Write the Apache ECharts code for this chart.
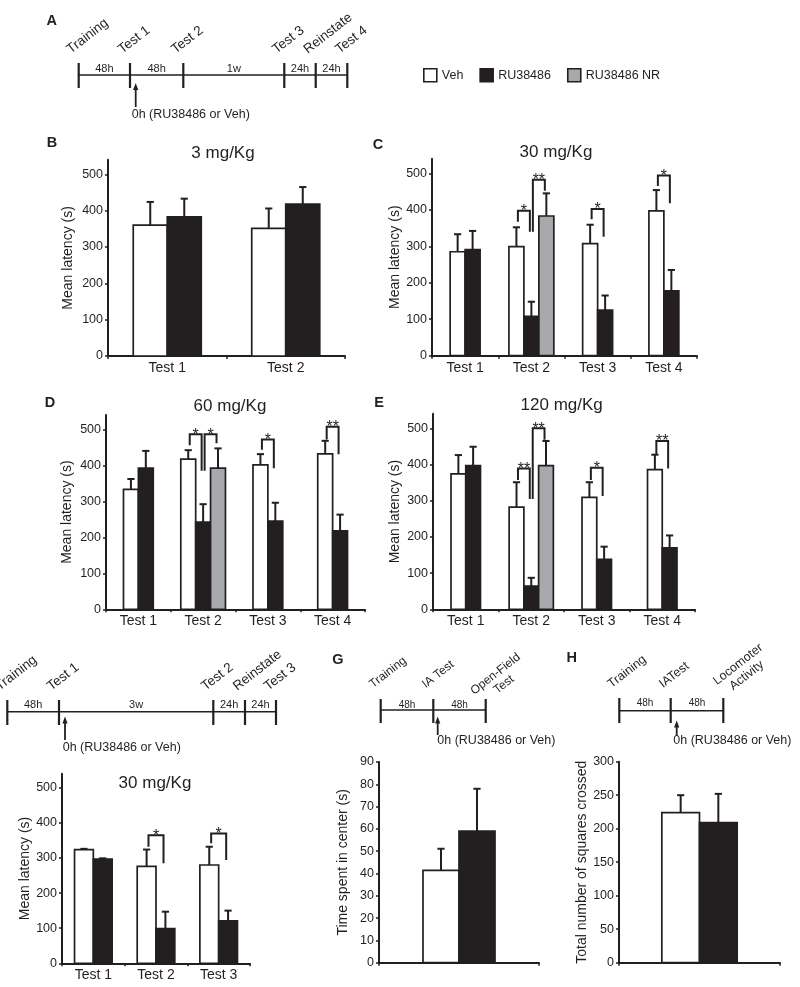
<!DOCTYPE html>
<html><head><meta charset="utf-8">
<script src="https://cdn.jsdelivr.net/npm/echarts@6/dist/echarts.min.js"></script>
<style>html,body{margin:0;padding:0;background:#fff}#c{width:800px;height:987px}</style>
</head><body><div id="c"></div>
<script>
const FONT = 'Liberation Sans, Arial, Helvetica, sans-serif';
const INK = '#231f20';
const GREY = '#a7a9ac';

// ---------- categories & tick labels ----------
const tests2 = ['Test 1', 'Test 2'];
const tests3 = ['Test 1', 'Test 2', 'Test 3'];
const tests4 = ['Test 1', 'Test 2', 'Test 3', 'Test 4'];
const singleCat = [''];
const latencyTicks = [0, 100, 200, 300, 400, 500];
const centerTicks = [0, 10, 20, 30, 40, 50, 60, 70, 80, 90];
const squaresTicks = [0, 50, 100, 150, 200, 250, 300];
const seriesNames = ['Veh', 'RU38486', 'RU38486 NR'];

// ---------- B: 3 mg/Kg ----------
const bVehMean = [360, 351];
const bVehSem = [64, 55];
const bRuMean = [383, 418];
const bRuSem = [50, 47];

// ---------- C: 30 mg/Kg ----------
const cVehMean = [285, 299, 307, 397];
const cVehSem = [48, 53, 52, 57];
const cRuMean = [291, 108, 125, 178];
const cRuSem = [51, 40, 40, 57];
const cNrMean = [null, 383, null, null];
const cNrSem = [null, 62, null, null];
// significance: [category, bar A, bar B, bracket top, leg A end, leg B end, stars]
const cSig = [[1, 0, 1, 397, 367, 340, 1], [1, 1, 2, 482, 340, 452, 2], [2, 0, 1, 402, 374, 326, 1], [3, 0, 1, 494, 465, 418, 1]];

// ---------- D: 60 mg/Kg ----------
const dVehMean = [333, 417, 401, 432];
const dVehSem = [29, 25, 30, 36];
const dRuMean = [392, 242, 245, 218];
const dRuSem = [48, 50, 51, 45];
const dNrMean = [null, 392, null, null];
const dNrSem = [null, 55, null, null];
const dSig = [[1, 0, 1, 486, 456, 385, 1], [1, 1, 2, 486, 385, 461, 1], [2, 0, 1, 472, 443, 392, 1], [3, 0, 1, 507, 472, 431, 2]];

// ---------- E: 120 mg/Kg ----------
const eVehMean = [374, 282, 309, 386];
const eVehSem = [52, 69, 42, 41];
const eRuMean = [397, 64, 138, 170];
const eRuSem = [52, 23, 35, 34];
const eNrMean = [null, 397, null, null];
const eNrSem = [null, 68, null, null];
const eSig = [[1, 0, 1, 389, 357, 305, 2], [1, 1, 2, 500, 305, 468, 2], [2, 0, 1, 391, 357, 313, 1], [3, 0, 1, 465, 429, 389, 2]];

// ---------- F: 30 mg/Kg, 3 weeks ----------
const fVehMean = [324, 276, 280];
const fVehSem = [2, 48, 52];
const fRuMean = [297, 99, 121];
const fRuSem = [2, 48, 29];
const fSig = [[1, 0, 1, 365, 332, 285, 1], [2, 0, 1, 370, 342, 294, 1]];

// ---------- G: open field, time in center ----------
const gVehMean = [41.4];
const gVehSem = [9.7];
const gRuMean = [59];
const gRuSem = [19];

// ---------- H: locomotor activity ----------
const hVehMean = [224];
const hVehSem = [26];
const hRuMean = [209];
const hRuSem = [43];

// ---------- timeline texts ----------
const aEvents = ['Training', 'Test 1', 'Test 2', 'Test 3', 'Reinstate', 'Test 4'];
const aIntervals = ['48h', '48h', '1w', '24h', '24h'];
const fEvents = ['Training', 'Test 1', 'Test 2', 'Reinstate', 'Test 3'];
const fIntervals = ['48h', '3w', '24h', '24h'];
const gEvents = ['Training', 'IA Test', 'Open-Field\nTest'];
const hEvents = ['Training', 'IATest', 'Locomoter\nActivity'];
const ghIntervals = ['48h', '48h'];
const doseNote = '0h (RU38486 or Veh)';

// ---------- panel layout ----------
const panels = [
  { cats: tests2, grid: { left: 108, top: 159.8, width: 237, height: 196.2 }, yMax: 540, ticks: latencyTicks, yName: 'Mean latency (s)', nameGap: 33, frac: 0.287,
    groups: [[bVehMean, bVehSem], [bRuMean, bRuSem]], sig: [] },
  { cats: tests4, grid: { left: 432, top: 158.7, width: 265, height: 197 }, yMax: 540, ticks: latencyTicks, yName: 'Mean latency (s)', nameGap: 30, frac: 0.226,
    groups: [[cVehMean, cVehSem], [cRuMean, cRuSem], [cNrMean, cNrSem]], sig: cSig },
  { cats: tests4, grid: { left: 106, top: 414.9, width: 259, height: 194.4 }, yMax: 540, ticks: latencyTicks, yName: 'Mean latency (s)', nameGap: 32, frac: 0.23,
    groups: [[dVehMean, dVehSem], [dRuMean, dRuSem], [dNrMean, dNrSem]], sig: dSig },
  { cats: tests4, grid: { left: 433, top: 413.8, width: 262, height: 195.5 }, yMax: 540, ticks: latencyTicks, yName: 'Mean latency (s)', nameGap: 31, frac: 0.225,
    groups: [[eVehMean, eVehSem], [eRuMean, eRuSem], [eNrMean, eNrSem]], sig: eSig },
  { cats: tests3, grid: { left: 62, top: 773.7, width: 188, height: 189.6 }, yMax: 540, ticks: latencyTicks, yName: 'Mean latency (s)', nameGap: 30, frac: 0.30,
    groups: [[fVehMean, fVehSem], [fRuMean, fRuSem]], sig: fSig },
  { cats: singleCat, grid: { left: 379, top: 762, width: 160, height: 200.7 }, yMax: 90, ticks: centerTicks, yName: 'Time spent in center (s)', nameGap: 29, frac: 0.225,
    groups: [[gVehMean, gVehSem], [gRuMean, gRuSem]], sig: [] },
  { cats: singleCat, grid: { left: 619, top: 761.7, width: 161, height: 201 }, yMax: 300, ticks: squaresTicks, yName: 'Total number of squares crossed', nameGap: 30, frac: 0.234,
    groups: [[hVehMean, hVehSem], [hRuMean, hRuSem]], sig: [] }
];
const fills = ['#ffffff', INK, GREY];

const grids = [], xAxes = [], yAxes = [], series = [];

panels.forEach((p, gi) => {
  grids.push(Object.assign({ containLabel: false, outerBoundsMode: 'none' }, p.grid));
  xAxes.push({
    type: 'category', gridIndex: gi, data: p.cats, boundaryGap: true,
    axisLine: { show: true, lineStyle: { color: INK, width: 2 } },
    axisTick: { show: true, interval: 0, length: 3, lineStyle: { color: INK, width: 1.5 } },
    axisLabel: { show: p.cats[0] !== '', interval: 0, fontSize: 14, fontFamily: FONT, color: INK, margin: 5 },
    splitLine: { show: false }
  });
  yAxes.push({
    type: 'value', gridIndex: gi, min: 0, max: p.yMax,
    axisLine: { show: true, lineStyle: { color: INK, width: 2 } },
    axisTick: { show: true, length: 3, customValues: p.ticks, lineStyle: { color: INK, width: 1.5 } },
    axisLabel: { customValues: p.ticks, fontSize: 12.5, fontFamily: FONT, color: INK, margin: 5,
      formatter: v => (p.ticks.indexOf(v) >= 0 ? String(v) : '') },
    splitLine: { show: false },
    name: p.yName, nameLocation: 'middle', nameGap: p.nameGap,
    nameTextStyle: { fontSize: 14, fontFamily: FONT, color: INK }
  });
  const counts = p.cats.map((c, i) => p.groups.filter(g => g[0][i] != null).length);
  p.groups.forEach((g, slot) => {
    const data = [];
    g[0].forEach((m, i) => { if (m != null) data.push([i, m, g[1][i]]); });
    series.push({
      type: 'custom', name: seriesNames[slot], xAxisIndex: gi, yAxisIndex: gi, data,
      encode: { x: 0, y: 1 }, clip: false, silent: true,
      itemStyle: { color: fills[slot], borderColor: INK },
      renderItem: (params, api) => {
        const ci = api.value(0), m = api.value(1), s = api.value(2);
        const base = api.coord([ci, 0]);
        const bw = api.size([1, 0])[0] * p.frac;
        const x0 = base[0] - counts[ci] * bw / 2 + slot * bw;
        const xc = x0 + bw / 2;
        const yTop = api.coord([ci, m])[1];
        const yErr = api.coord([ci, m + s])[1];
        return { type: 'group', children: [
          { type: 'line', shape: { x1: xc, y1: yTop, x2: xc, y2: yErr }, style: { stroke: INK, lineWidth: 2 } },
          { type: 'line', shape: { x1: xc - 3.6, y1: yErr, x2: xc + 3.6, y2: yErr }, style: { stroke: INK, lineWidth: 2 } },
          { type: 'rect', shape: { x: x0, y: yTop, width: bw, height: base[1] - yTop }, style: { fill: fills[slot], stroke: INK, lineWidth: 1.7 } }
        ] };
      }
    });
  });
  if (p.sig.length) {
    series.push({
      type: 'custom', xAxisIndex: gi, yAxisIndex: gi, data: p.sig, encode: { x: 0, y: 3 }, clip: false, silent: true,
      renderItem: (params, api) => {
        const ci = api.value(0), a = api.value(1), b = api.value(2);
        const base = api.coord([ci, 0]);
        const bw = api.size([1, 0])[0] * p.frac;
        const start = base[0] - counts[ci] * bw / 2;
        const xa = start + (a + 0.5) * bw + 0.1 * bw;
        const xb = start + (b + 0.5) * bw - 0.1 * bw;
        const yt = api.coord([ci, api.value(3)])[1];
        const ya = api.coord([ci, api.value(4)])[1];
        const yb = api.coord([ci, api.value(5)])[1];
        return { type: 'group', children: [
          { type: 'polyline', shape: { points: [[xa, ya], [xa, yt], [xb, yt], [xb, yb]] }, style: { stroke: INK, lineWidth: 2, fill: null } },
          { type: 'text', x: (xa + xb) / 2, y: yt + 1, style: { text: '*'.repeat(api.value(6)), fill: INK, fontSize: 16, fontFamily: FONT, align: 'center', verticalAlign: 'middle' } }
        ] };
      }
    });
  }
});

// ---------- graphic: titles, letters, timelines ----------
const graphic = [];
function txt(x, y, text, size, opts) {
  graphic.push(Object.assign({ type: 'text', x, y, style: Object.assign({ text, fontSize: size, fontFamily: FONT, fill: INK, align: 'center', verticalAlign: 'middle' }, (opts && opts.style) || {}) }, (opts && opts.el) || {}));
}
// panel letters
[['A', 51.7, 20.7], ['B', 52, 143], ['C', 378, 145], ['D', 50, 403], ['E', 379, 402.7], ['G', 338, 660], ['H', 571.7, 658.3]]
  .forEach(l => txt(l[1], l[2], l[0], 14.5, { style: { fontWeight: 'bold' } }));
// dose titles
[['3 mg/Kg', 223, 153], ['30 mg/Kg', 556, 152], ['60 mg/Kg', 230, 406], ['120 mg/Kg', 561.7, 405], ['30 mg/Kg', 155, 783]]
  .forEach(t => txt(t[1], t[2], t[0], 17));

const ROT = 38 * Math.PI / 180;
function timeline(cfg) {
  const xs = cfg.xs;
  graphic.push({ type: 'line', shape: { x1: xs[0], y1: cfg.y, x2: xs[xs.length - 1], y2: cfg.y }, style: { stroke: INK, lineWidth: 1.6 } });
  xs.forEach(x => graphic.push({ type: 'line', shape: { x1: x, y1: cfg.t0, x2: x, y2: cfg.t1 }, style: { stroke: INK, lineWidth: 2.2 } }));
  cfg.events.forEach((e, i) => {
    const multi = e.indexOf('\n') >= 0;
    const ax = multi ? cfg.multiAnchor[0] : xs[i] - 5.5;
    const ay = multi ? cfg.multiAnchor[1] : cfg.evY;
    graphic.push({ type: 'text', x: ax, y: ay, rotation: ROT,
      style: { text: e, fontSize: cfg.evSize, fontFamily: FONT, fill: INK, align: multi ? 'center' : 'left', verticalAlign: 'bottom', lineHeight: cfg.evSize + 1.5 } });
  });
  cfg.intervals.forEach((t, i) => txt((xs[i] + xs[i + 1]) / 2, cfg.inY, t, cfg.inSize));
  // arrow
  graphic.push({ type: 'line', shape: { x1: cfg.arX, y1: cfg.arTip + 5, x2: cfg.arX, y2: cfg.arBot }, style: { stroke: INK, lineWidth: 1.8 } });
  graphic.push({ type: 'polygon', shape: { points: [[cfg.arX - 2.6, cfg.arTip + 7], [cfg.arX + 2.6, cfg.arTip + 7], [cfg.arX, cfg.arTip]] }, style: { fill: INK } });
  txt(cfg.noteX, cfg.noteY, doseNote, 12.5, { style: { align: 'left' } });
}
timeline({ xs: [78.7, 130, 183.3, 284.3, 315.7, 347.3], y: 75, t0: 63, t1: 88, events: aEvents, evY: 57, evSize: 13.5,
  intervals: aIntervals, inY: 69, inSize: 11, arX: 135.7, arTip: 83, arBot: 107, noteX: 131.7, noteY: 115 });
timeline({ xs: [7.3, 59, 213.3, 245, 276], y: 711.7, t0: 700, t1: 725, events: fEvents, evY: 694, evSize: 13.5,
  intervals: fIntervals, inY: 705, inSize: 11, arX: 65, arTip: 716.5, arBot: 740, noteX: 62.7, noteY: 748 });
timeline({ xs: [380.7, 433.3, 485.7], y: 710, t0: 699, t1: 723, events: gEvents, evY: 691, evSize: 12, multiAnchor: [508, 690],
  intervals: ghIntervals, inY: 705, inSize: 10, arX: 437.7, arTip: 716.5, arBot: 735, noteX: 437.3, noteY: 741 });
timeline({ xs: [619.3, 670.7, 723.3], y: 710.7, t0: 698, t1: 723, events: hEvents, evY: 691, evSize: 12.5, multiAnchor: [751, 681],
  intervals: ghIntervals, inY: 703.5, inSize: 10, arX: 676.7, arTip: 720.5, arBot: 735, noteX: 673.3, noteY: 741 });

const chart = echarts.init(document.getElementById('c'), null, { renderer: 'canvas' });
chart.setOption({
  animation: false,
  backgroundColor: '#ffffff',
  textStyle: { fontFamily: FONT },
  legend: {
    left: 423, top: 68, padding: 0, itemWidth: 13, itemHeight: 13, itemGap: 16, icon: 'rect', selectedMode: false,
    textStyle: { fontSize: 12.5, fontFamily: FONT, color: INK },
    data: [
      { name: 'Veh', itemStyle: { color: '#ffffff', borderColor: INK, borderWidth: 1.6 } },
      { name: 'RU38486', itemStyle: { color: INK, borderColor: INK, borderWidth: 1.6 } },
      { name: 'RU38486 NR', itemStyle: { color: GREY, borderColor: INK, borderWidth: 1.6 } }
    ]
  },
  grid: grids, xAxis: xAxes, yAxis: yAxes, series, graphic
});
</script></body></html>
